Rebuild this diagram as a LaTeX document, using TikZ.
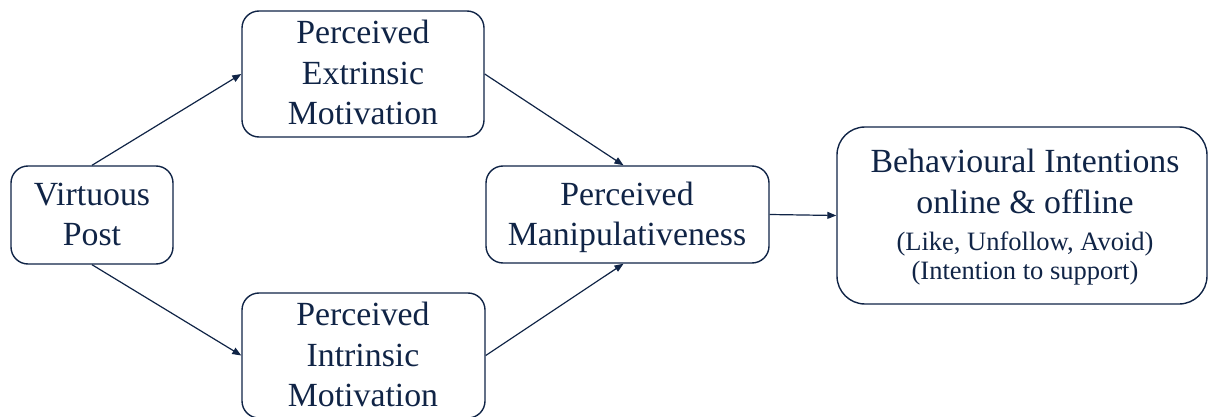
\documentclass[tikz,border=0pt]{standalone}
\usepackage{fontspec}
\setmainfont{Liberation Serif}
\usetikzlibrary{arrows.meta}
\definecolor{navy}{RGB}{16,36,70}
\begin{document}
\begin{tikzpicture}[x=1pt,y=-1pt,
  box/.style={draw=navy, line width=1.4pt, rounded corners=17pt, inner sep=0pt},
  big/.style={font=\fontsize{33.8}{40}\selectfont, text=navy, anchor=base, inner sep=0pt},
  small/.style={font=\fontsize{26.5}{29}\selectfont, text=navy, anchor=base, inner sep=0pt},
  arr/.style={draw=navy, line width=1.2pt, -{Triangle[length=9pt,width=7pt]}}]
\useasboundingbox (0,0) rectangle (1208,417);
% boxes
\node[box, minimum width=162pt, minimum height=98pt] (vp) at (92,215) {};
\node[box, minimum width=242pt, minimum height=126pt] (ext) at (363,74) {};
\node[box, minimum width=243pt, minimum height=125pt] (int) at (363.5,355.5) {};
\node[box, minimum width=283pt, minimum height=97pt] (man) at (627.5,214.5) {};
\node[box, rounded corners=28pt, minimum width=370pt, minimum height=177pt] (beh) at (1022,215.5) {};
% texts
\node[big] (vp1) at (92,205) {Virtuous};
\node[big] (vp2) at (92,245) {Post};
\node[big] (ext1) at (363,44) {Perceived};
\node[big] (ext2) at (363,85) {Extrinsic};
\node[big] (ext3) at (363,125) {Motivation};
\node[big] (int1) at (363,325) {Perceived};
\node[big] (int2) at (363,366) {Intrinsic};
\node[big] (int3) at (363,406) {Motivation};
\node[big] (man1) at (627,205) {Perceived};
\node[big] (man2) at (627,245) {Manipulativeness};
\node[big] (beh1) at (1025,173) {Behavioural Intentions};
\node[big] (beh2) at (1025,213) {online \& offline};
\node[small] (beh3) at (1025,250) {(Like, Unfollow, Avoid)};
\node[small] (beh4) at (1025,279) {(Intention to support)};
% connectors
\draw[arr] (vp.north) -- (ext.west);
\draw[arr] (vp.south) -- (int.west);
\draw[arr] (ext.east) -- ([xshift=-4pt]man.north);
\draw[arr] (int.east) -- ([xshift=-4pt]man.south);
\draw[arr] (man.east) -- (beh.west);
\end{tikzpicture}
\end{document}
